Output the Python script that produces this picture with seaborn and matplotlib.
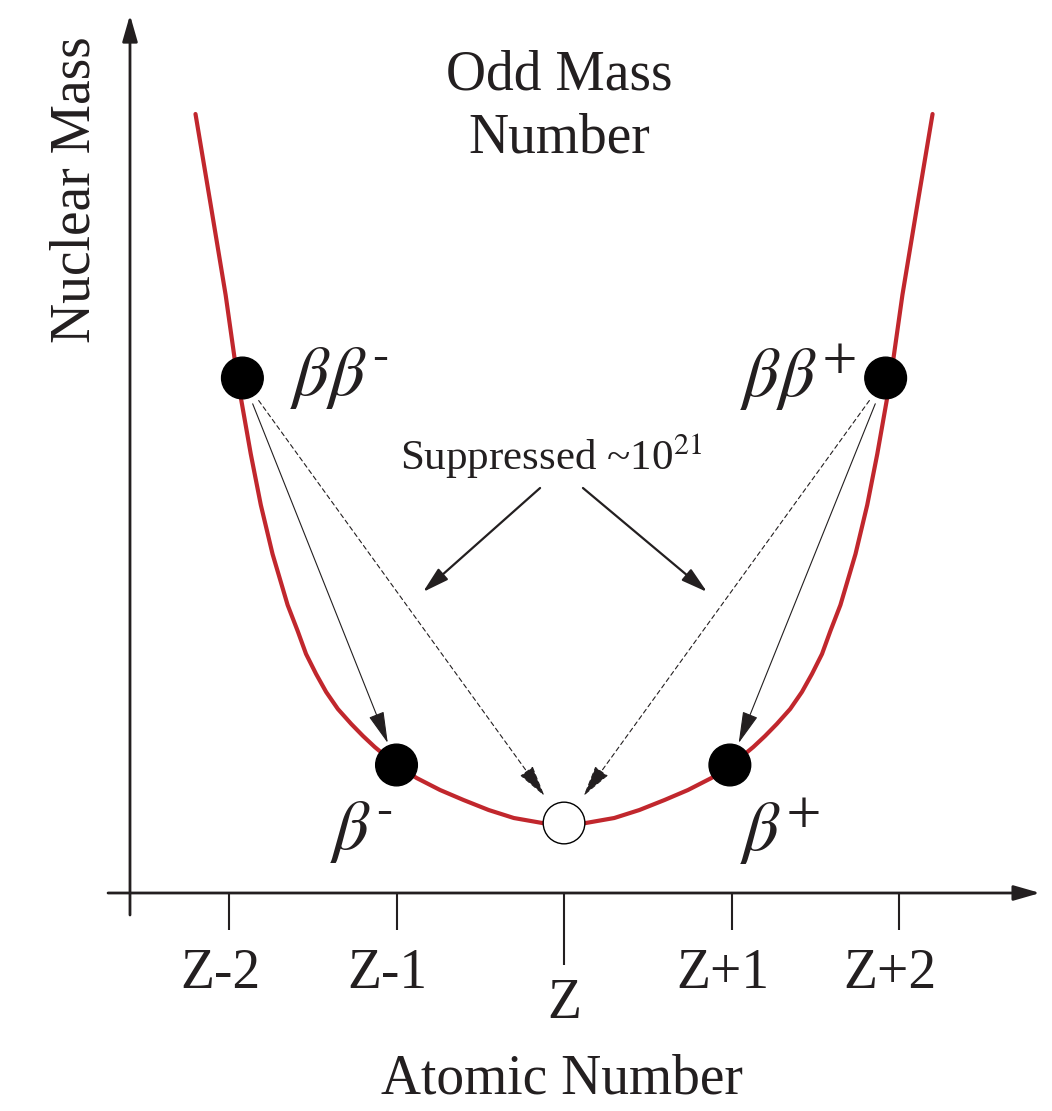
import numpy as np
import pandas as pd
import matplotlib
matplotlib.use("Agg")
import matplotlib.pyplot as plt
import seaborn as sns
from matplotlib.transforms import ScaledTranslation

# ---------------- data ----------------
curve_z = [-2.20, -2.11, -2.02, -1.95, -1.87, -1.81, -1.74, -1.65, -1.59, -1.54, -1.48, -1.42,
           -1.35, -1.27, -1.20, -1.13, -1.00, -0.88, -0.74, -0.60, -0.45, -0.30, -0.13, 0.00,
           0.13, 0.30, 0.45, 0.60, 0.74, 0.88, 1.00, 1.13, 1.20, 1.27, 1.35, 1.42,
           1.48, 1.54, 1.59, 1.65, 1.74, 1.81, 1.87, 1.95, 2.02, 2.11, 2.20]
curve_mass = [7.79, 6.89, 5.98, 5.15, 4.39, 3.88, 3.39, 2.88, 2.62, 2.39, 2.19, 2.01,
              1.84, 1.69, 1.57, 1.46, 1.28, 1.15, 1.03, 0.93, 0.83, 0.75, 0.70, 0.69,
              0.70, 0.75, 0.83, 0.93, 1.03, 1.15, 1.28, 1.46, 1.57, 1.69, 1.84, 2.01,
              2.19, 2.39, 2.62, 2.88, 3.39, 3.88, 4.39, 5.15, 5.98, 6.89, 7.79]

nuclide_z = [-1.92, -1.00, 0.00, 0.99, 1.92]
nuclide_mass = [5.15, 1.28, 0.70, 1.28, 5.15]
nuclide_kind = ["unstable", "unstable", "stable", "unstable", "unstable"]
nuclide_labels = [r"$\beta\beta^{\text{-}}$", r"$\beta^{\text{-}}$", "",
                  r"$\beta^{+}$", r"$\beta\beta^{+}$"]

tick_pos = [-2, -1, 1, 2]
tick_labels = ["Z-2", "Z-1", "Z+1", "Z+2"]
center_pos = [0]
center_label = ["Z"]

title_text = "Odd Mass\nNumber"
xlabel_text = "Atomic Number"
ylabel_text = "Nuclear Mass"
suppressed_text = r"Suppressed ~10$^{21}$"

# ---------------- style ----------------
RED = "#C1272D"
INK = "#231F20"
sns.set_theme(style="white")
plt.rcParams["font.family"] = ["Liberation Serif", "DejaVu Serif"]
plt.rcParams["mathtext.fontset"] = "stix"

fig = plt.figure(figsize=(10.52, 11.11), dpi=100)
ax = fig.add_axes([0, 0, 1, 1])
ax.set_facecolor("white")

curve_df = pd.DataFrame({"z": curve_z, "mass": curve_mass})
sns.lineplot(data=curve_df, x="z", y="mass", sort=False, color=RED, lw=3.0,
             solid_joinstyle="round", ax=ax, zorder=2)

nuc_df = pd.DataFrame({"z": nuclide_z, "mass": nuclide_mass, "kind": nuclide_kind})
sns.scatterplot(data=nuc_df, x="z", y="mass", hue="kind",
                palette={"unstable": "black", "stable": "white"},
                s=900, edgecolor="black", linewidth=1.0, legend=False, ax=ax, zorder=5)

ax.set_xlim(-3.367, 2.913)
ax.set_ylim(-2.18, 8.93)
ax.set_xlabel("")
ax.set_ylabel("")

# axes drawn as arrows
axis_arrow = dict(arrowstyle="-|>,head_length=0.8,head_width=0.23", mutation_scale=20,
                  color=INK, lw=2.0, shrinkA=0, shrinkB=0)
ax.annotate("", xy=(2.842, 0), xytext=(-2.722, 0), arrowprops=axis_arrow, zorder=3)
ax.annotate("", xy=(-2.591, 8.78), xytext=(-2.591, -0.22), arrowprops=axis_arrow, zorder=3)

# ticks
for s in ax.spines.values():
    s.set_visible(False)
ax.spines["bottom"].set_position(("data", 0))
ax.set_yticks([])
ax.grid(False)
ax.set_xticks(tick_pos, tick_labels)
ax.set_xticks(center_pos, center_label, minor=True)
ax.tick_params(axis="x", which="major", bottom=True, direction="out", length=26.6,
               width=1.5, pad=13, labelsize=40, colors=INK)
ax.tick_params(axis="x", which="minor", bottom=True, direction="out", length=52,
               width=1.5, pad=9, labelsize=40, colors=INK)
off = ScaledTranslation(-0.09, 0, fig.dpi_scale_trans)
for lab in ax.xaxis.get_majorticklabels():
    lab.set_transform(lab.get_transform() + off)

# decay arrows between nuclides
def decay(i, j, dashed):
    ax.annotate("", xy=(nuclide_z[j], nuclide_mass[j]),
                xytext=(nuclide_z[i], nuclide_mass[i]),
                arrowprops=dict(arrowstyle="-|>,head_length=2.0,head_width=0.5",
                                mutation_scale=10, color=INK, lw=0.8,
                                linestyle=(0, (4, 3)) if dashed else "-",
                                shrinkA=20, shrinkB=24 if dashed else 17),
                zorder=4)

decay(0, 1, False)
decay(0, 2, True)
decay(4, 3, False)
decay(4, 2, True)

# suppressed arrows
supp = dict(arrowstyle="-|>,head_length=1.6,head_width=0.45", mutation_scale=10,
            color=INK, lw=1.6, shrinkA=0, shrinkB=0)
ax.annotate("", xy=(-0.842, 3.01), xytext=(-0.143, 4.05), arrowprops=supp, zorder=4)
ax.annotate("", xy=(0.854, 3.01), xytext=(0.113, 4.05), arrowprops=supp, zorder=4)

# texts
ax.text(-0.078, 4.23, suppressed_text, ha="center", va="baseline", fontsize=31, color=INK)
ax.text(-1.636, 5.15, nuclide_labels[0], ha="left", va="center", fontsize=51, color=INK)
ax.text(1.74, 5.15, nuclide_labels[4], ha="right", va="center", fontsize=51, color=INK)
ax.text(-1.397, 0.61, nuclide_labels[1], ha="left", va="center", fontsize=51, color=INK)
ax.text(1.051, 0.61, nuclide_labels[3], ha="left", va="center", fontsize=51, color=INK)

ax.text(-0.03, 7.86, title_text, ha="center", va="center", fontsize=40,
        linespacing=1.27, color=INK)
ax.text(-0.012, -1.86, xlabel_text, ha="center", va="center", fontsize=40, color=INK)
ax.text(-2.919, 7.03, ylabel_text, ha="center", va="center", rotation=90,
        fontsize=40, color=INK)

fig.savefig("out.png", dpi=100, facecolor="white")
